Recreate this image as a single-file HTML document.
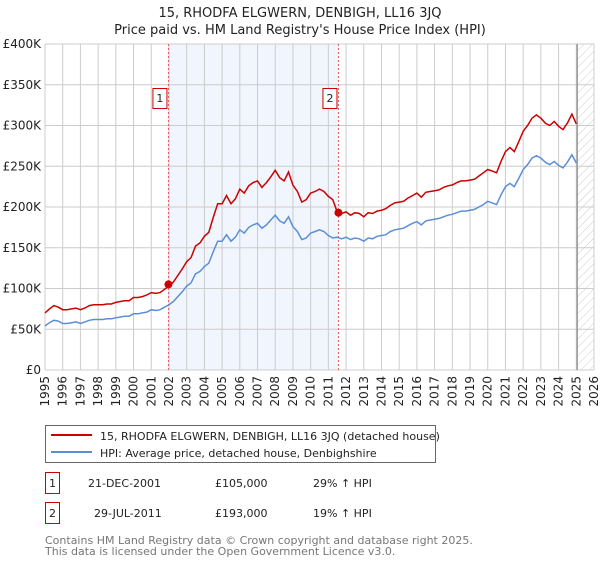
<!DOCTYPE html>
<html><head><meta charset="utf-8"><style>
body{margin:0;background:#fff;font-family:"Liberation Sans","DejaVu Sans",sans-serif;}
svg text{font-family:"DejaVu Sans","Liberation Sans",sans-serif;}
</style></head><body>
<svg id="chart" width="600" height="560" xmlns="http://www.w3.org/2000/svg">
<defs><pattern id="hatch" width="6" height="6" patternUnits="userSpaceOnUse" patternTransform="rotate(45)"><line x1="0" y1="0" x2="0" y2="6" stroke="#ccc" stroke-width="1"/></pattern></defs>
<text x="300" y="17" text-anchor="middle" font-size="13" fill="#222">15, RHODFA ELGWERN, DENBIGH, LL16 3JQ</text>
<text x="300" y="34" text-anchor="middle" font-size="13" fill="#222">Price paid vs. HM Land Registry's House Price Index (HPI)</text>
<g id="plot"></g>
<g>
<rect x="45.5" y="425.5" width="390" height="37" fill="#fff" stroke="#666"/>
<line x1="51" y1="435" x2="92" y2="435" stroke="#cc0000" stroke-width="2"/>
<text x="100" y="440" font-size="11" fill="#222">15, RHODFA ELGWERN, DENBIGH, LL16 3JQ (detached house)</text>
<line x1="51" y1="452" x2="92" y2="452" stroke="#5b8fd4" stroke-width="2"/>
<text x="100" y="457" font-size="11" fill="#222">HPI: Average price, detached house, Denbighshire</text>
</g>
<g font-size="11" fill="#222">
<rect x="45.5" y="472.5" width="14" height="21" fill="#fff" stroke="#cc0000"/>
<text x="52.5" y="487" text-anchor="middle">1</text>
<text x="88" y="487">21-DEC-2001</text><text x="215" y="487">£105,000</text><text x="313" y="487">29% ↑ HPI</text>
<rect x="45.5" y="502.5" width="14" height="21" fill="#fff" stroke="#cc0000"/>
<text x="52.5" y="517" text-anchor="middle">2</text>
<text x="94" y="517">29-JUL-2011</text><text x="215" y="517">£193,000</text><text x="313" y="517">19% ↑ HPI</text>
</g>
<text x="45" y="544" font-size="11" fill="#777">Contains HM Land Registry data © Crown copyright and database right 2025.</text>
<text x="45" y="555" font-size="11" fill="#777">This data is licensed under the Open Government Licence v3.0.</text>
</svg>
<script>
const startYear = 1995;
const hpi = [54,58,61,60, 57,57,58,59, 57,59,61,62, 62,62,63,63, 64,65,66,66, 69,69,70,71, 74,73,74,77, 80,84,90,96, 103,107,118,121, 127,131,145,158, 158,166,158,163, 172,168,175,178, 180,174,178,184, 190,183,180,188, 176,170,160,162, 168,170,172,170, 165,162,163,161, 163,160,162,161, 158,162,161,164, 165,166,170,172, 173,174,177,180, 182,178,183,184, 185,186,188,190, 191,193,195,195, 196,197,200,203, 207,205,203,215, 225,229,225,235, 246,252,260,263, 260,255,252,256, 251,248,255,264, 254];
const paid = [70,75,79,77, 74,74,75,76, 74,76,79,80, 80,80,81,81, 83,84,85,85, 89,89,90,92, 95,94,95,99, 103,108,116,124, 133,138,152,156, 164,169,187,204, 204,214,204,210, 222,217,226,230, 232,224,230,237, 245,236,232,243, 227,219,206,209, 217,219,222,219, 213,209,194,192, 194,190,193,192, 188,193,192,195, 196,198,202,205, 206,207,211,214, 217,212,218,219, 220,221,224,226, 227,230,232,232, 233,234,238,242, 246,244,242,256, 268,273,268,280, 293,300,309,313, 309,303,300,305, 299,295,303,314, 302];
const saleYears = [2001.97, 2011.57];
const salePrices = [105, 193];
const saleLabels = ["1","2"];
const yTicks = [0,50,100,150,200,250,300,350,400];
const yTickLabels = ["£0","£50K","£100K","£150K","£200K","£250K","£300K","£350K","£400K"];
const xYears = [1995,1996,1997,1998,1999,2000,2001,2002,2003,2004,2005,2006,2007,2008,2009,2010,2011,2012,2013,2014,2015,2016,2017,2018,2019,2020,2021,2022,2023,2024,2025,2026];

const L=45,R=594,T=44,B=370;
const x=y=>L+(y-1995)/(2026-1995)*(R-L);
const yv=v=>B-v/400*(B-T);
const NS="http://www.w3.org/2000/svg";
const g=document.getElementById('plot');
function mk(t,a){const e=document.createElementNS(NS,t);for(const k in a)e.setAttribute(k,a[k]);g.appendChild(e);return e;}
let e;
e=mk('rect',{x:x(saleYears[0]),y:T,width:x(saleYears[1])-x(saleYears[0]),height:B-T,fill:'#eef3fc',opacity:0.8});


e=mk('rect',{x:x(2025.05),y:T,width:R-x(2025.05),height:B-T,fill:'url(#hatch)'});


yTicks.forEach((v,i)=>{
 e=mk('line',{x1:L,x2:R,y1:yv(v),y2:yv(v),stroke:'#ccc'});
 
 
 e=mk('text',{x:L-4,y:yv(v)+4,'text-anchor':'end','font-size':12,fill:'#222'});e.textContent=yTickLabels[i];
 
 
});
xYears.forEach(yr=>{
 e=mk('line',{x1:x(yr),x2:x(yr),y1:T,y2:B,stroke:'#ccc'});
 
 
 e=mk('text',{x:0,y:0,'font-size':12,fill:'#222','text-anchor':'end',transform:`translate(${x(yr)+4},${B+6}) rotate(-90)`});e.textContent=yr;
 
 
});
e=mk('line',{x1:x(2025.05),x2:x(2025.05),y1:T,y2:B,stroke:'#888','stroke-width':1.2});


saleYears.forEach((s,i)=>{
 e=mk('line',{x1:x(s),x2:x(s),y1:T,y2:B,stroke:'#e06060','stroke-dasharray':'2,2'});
 
 
 e=mk('rect',{x:x(s)-15.5,y:88.5,width:14,height:20,fill:'#fff',stroke:'#cc0000'});
 
 
 e=mk('text',{x:x(s)-8.5,y:102,'text-anchor':'middle','font-size':11,fill:'#222'});e.textContent=saleLabels[i];
 
 
});
const pts=a=>a.map((v,i)=>`${x(startYear+i/4).toFixed(1)},${yv(v).toFixed(1)}`).join(' ');
e=mk('polyline',{points:pts(hpi),fill:'none',stroke:'#5b8fd4','stroke-width':1.5});


e=mk('polyline',{points:pts(paid),fill:'none',stroke:'#cc0000','stroke-width':1.5});


saleYears.forEach((s,i)=>{
 e=mk('circle',{cx:x(s),cy:yv(salePrices[i]),r:4,fill:'#cc0000'});
 
 
});
</script>
</body></html>
